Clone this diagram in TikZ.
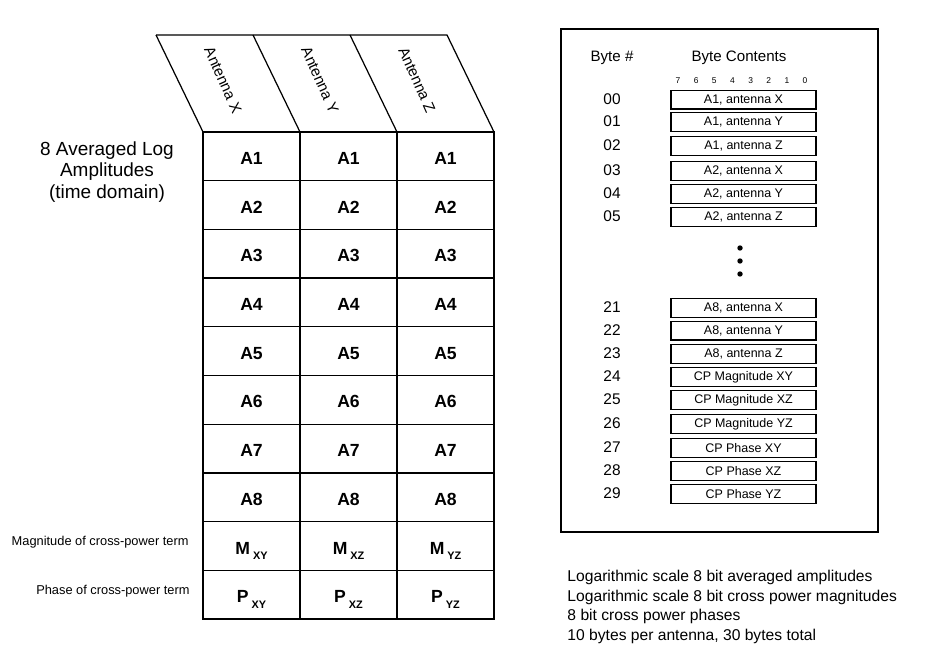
\documentclass[tikz,border=0pt]{standalone}
\usepackage{fontspec}
\setmainfont{Liberation Sans}
\usetikzlibrary{positioning}
\newcommand{\cpsub}[1]{\raisebox{-3.4pt}{\fontsize{6.2}{7}\selectfont #1}}
\tikzset{
  every picture/.style={line width=0.7pt},
  cell/.style={font=\fontsize{10}{12}\selectfont\bfseries, anchor=base},
  antlabel/.style={font=\fontsize{8.6}{10}\selectfont, rotate=-66},
  heading/.style={font=\fontsize{10.8}{12.3}\selectfont, align=center},
  sidenote/.style={font=\fontsize{7.3}{9}\selectfont, anchor=east},
  colhead/.style={font=\fontsize{8.6}{10}\selectfont},
  bitnum/.style={font=\fontsize{4.8}{6}\selectfont},
  bytenum/.style={font=\fontsize{8.8}{10}\selectfont},
  bytebox/.style={draw, minimum width=2.9cm, minimum height=0.37cm, inner sep=0pt, font=\fontsize{7.1}{8}\selectfont},
  note/.style={font=\fontsize{8.9}{11.1}\selectfont, align=left, anchor=west},
}
\begin{document}
\begin{tikzpicture}[x=0.02cm, y=-0.02cm]
  \useasboundingbox (0,0) rectangle (940,648);
  % slanted antenna header
  \draw (156,35) -- (447,35) -- (494,132);
  \foreach \c/\a in {0/X,1/Y,2/Z} {
    \draw (156+97*\c,35) -- (203+97*\c,132);
    \node[antlabel] (ant\a) at (223+97*\c,80) {Antenna \a};
  }
  % table body
  \draw (203,132) rectangle (494,619);
  \foreach \r in {1,...,9} \draw (203,132+48.7*\r) -- (494,132+48.7*\r);
  \draw (300,132) -- (300,619); \draw (397,132) -- (397,619);
  \draw[line width=1.1pt] (494,132) -- (494,619);
  \foreach \c/\a in {0/X,1/Y,2/Z}
    \foreach \r in {1,...,8}
      \node[cell] (a\r\a) at (251.5+97*\c,164.5+48.7*\r-48.7) {A\r};
  \foreach \c/\s in {0/XY,1/XZ,2/YZ} {
    \node[cell] (m\s) at (251.5+97*\c,554) {M\,\cpsub{\s}};
    \node[cell] (p\s) at (251.5+97*\c,602.7) {P\,\cpsub{\s}};
  }
  \node[heading] (avg) at (107,172) {8 Averaged Log\\Amplitudes\\(time domain)};
  \node[sidenote] (mag) at (195,542.5) {Magnitude of cross-power term};
  \node[sidenote] (pha) at (196,591) {Phase of cross-power term};
  % byte layout
  \draw (561,29) rectangle (878,532);
  \node[colhead] (bnum) at (612,58) {Byte \#};
  \node[colhead] (bcont) at (739,58) {Byte Contents};
  \foreach \i in {0,...,7} {
    \pgfmathtruncatemacro{\bit}{7-\i}
    \node[bitnum] (bit\bit) at (678+18.15*\i,80.5) {\bit};
  }
  \foreach \y/\n/\t in {99.7/00/{A1, antenna X}, 122/01/{A1, antenna Y}, 146/02/{A1, antenna Z},
      171/03/{A2, antenna X}, 194/04/{A2, antenna Y}, 217/05/{A2, antenna Z},
      308/21/{A8, antenna X}, 330.7/22/{A8, antenna Y}, 354/23/{A8, antenna Z},
      377/24/{CP Magnitude XY}, 400/25/{CP Magnitude XZ}, 424/26/{CP Magnitude YZ},
      448/27/{CP Phase XY}, 471/28/{CP Phase XZ}, 494/29/{CP Phase YZ}} {
    \node[bytenum] (n\n) at (612,\y-1) {\n};
    \node[bytebox] (b\n) at (743.5,\y) {\t};
  }
  \foreach \y in {248,261,274} \fill (740,\y) circle (2.7);
  \node[note] (summary) at (561,607) {Logarithmic scale 8 bit averaged amplitudes\\Logarithmic scale 8 bit cross power magnitudes\\8 bit cross power phases\\10 bytes per antenna, 30 bytes total};
\end{tikzpicture}
\end{document}
